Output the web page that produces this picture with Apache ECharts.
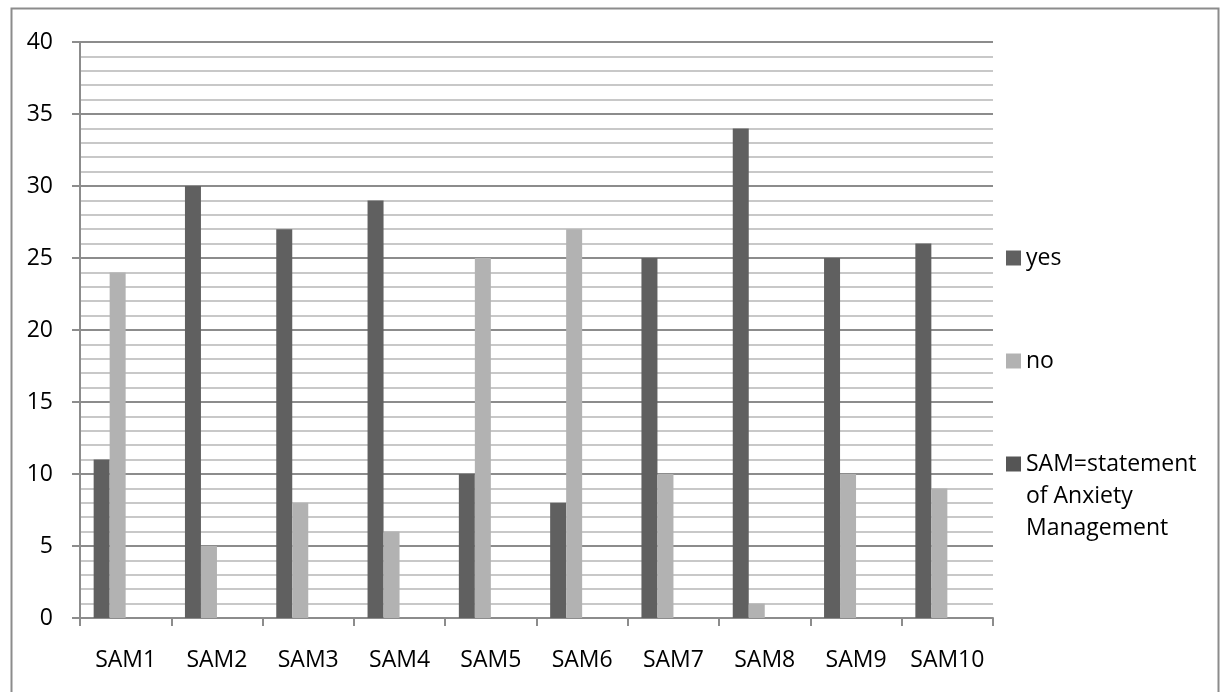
<!DOCTYPE html>
<html>
<head>
<meta charset="utf-8">
<script src="https://cdn.jsdelivr.net/npm/echarts@6/dist/echarts.min.js"></script>
<style>html,body{margin:0;padding:0;background:#fff;}#c{width:1226px;height:692px;}</style>
</head>
<body>
<div id="c"></div>
<script>
const categories = ['SAM1','SAM2','SAM3','SAM4','SAM5','SAM6','SAM7','SAM8','SAM9','SAM10'];
const yesValues = [11, 30, 27, 29, 10, 8, 25, 34, 25, 26];
const noValues = [24, 5, 8, 6, 25, 27, 10, 1, 10, 9];
const samValues = [null, null, null, null, null, null, null, null, null, null];
const spacerValues = [null, null, null, null, null, null, null, null, null, null];
const yTicks = {min: 0, max: 40, interval: 5};
const seriesNames = ['yes', 'no', 'SAM=statement\nof Anxiety\nManagement'];

const chart = echarts.init(document.getElementById('c'), null, {renderer: 'canvas'});
const font = '"Open Sans", sans-serif';
const FS = 23;
const legendBase = {
  orient: 'vertical', left: 1001, itemWidth: 15, itemHeight: 15, itemGap: 0,
  textStyle: {fontFamily: font, fontSize: FS, color: '#000', lineHeight: 32},
  selectedMode: false, icon: 'rect'
};
chart.setOption({
  animation: false,
  backgroundColor: '#fff',
  graphic: [{type: 'rect', shape: {x: 11.5, y: 8.5, width: 1207, height: 700}, style: {fill: 'none', stroke: '#8c8c8c', lineWidth: 2}, silent: true}],
  grid: {left: 80, right: 233, top: 42, bottom: 74, containLabel: false},
  legend: [
    Object.assign({}, legendBase, {data: [seriesNames[0]], top: 237}),
    Object.assign({}, legendBase, {data: [seriesNames[1]], top: 340}),
    Object.assign({}, legendBase, {data: [seriesNames[2]], top: 379, formatter: function (n) { return '\n\n' + n; }})
  ],
  xAxis: {
    type: 'category', data: categories,
    axisLine: {lineStyle: {color: '#8c8c8c', width: 2}},
    axisTick: {show: true, length: 8, lineStyle: {color: '#8c8c8c', width: 2}},
    axisLabel: {fontFamily: font, fontSize: FS, color: '#000', margin: 31, interval: 0}
  },
  yAxis: {
    type: 'value', min: yTicks.min, max: yTicks.max, interval: yTicks.interval,
    axisLine: {show: true, lineStyle: {color: '#8c8c8c', width: 2}},
    axisTick: {show: true, length: 8, lineStyle: {color: '#8c8c8c', width: 2}},
    axisLabel: {fontFamily: font, fontSize: FS, color: '#000', margin: 27},
    splitLine: {show: true, lineStyle: {color: '#8c8c8c', width: 2}},
    minorTick: {show: false, splitNumber: 5},
    minorSplitLine: {show: true, lineStyle: {color: '#c8c8c8', width: 2}}
  },
  series: [
    {name: seriesNames[0], type: 'bar', data: yesValues, barWidth: 16, barGap: '0%', itemStyle: {color: '#606060'}},
    {name: seriesNames[1], type: 'bar', data: noValues, barWidth: 16, barGap: '0%', itemStyle: {color: '#b2b2b2'}},
    {name: seriesNames[2], type: 'bar', data: samValues, barWidth: 16, barGap: '0%', itemStyle: {color: '#555555'}},
    {name: 'spacer', type: 'bar', data: spacerValues, barWidth: 16, barGap: '0%', itemStyle: {color: '#888888'}}
  ]
});
</script>
</body>
</html>
